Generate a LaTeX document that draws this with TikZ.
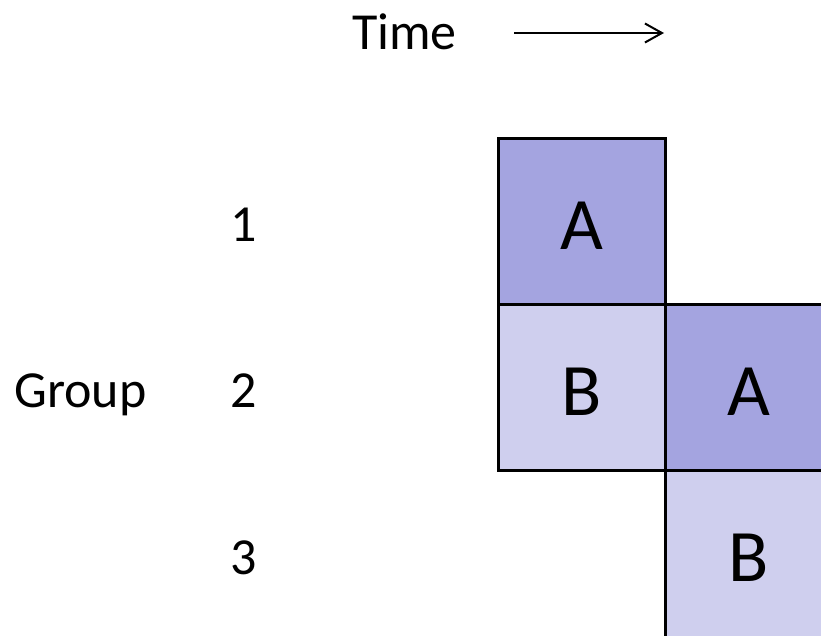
\documentclass[tikz,border=0pt]{standalone}
\usepackage{fontspec}
\setmainfont{Carlito}
\usetikzlibrary{arrows.meta}
\definecolor{darkcell}{RGB}{164,164,224}
\definecolor{lightcell}{RGB}{207,207,238}
\tikzset{
  cell/.style={draw=black, line width=3pt, minimum width=167pt, minimum height=166pt, inner sep=0pt, outer sep=0pt},
  darkbox/.style={cell, fill=darkcell},
  lightbox/.style={cell, fill=lightcell},
  celltext/.style={font=\fontsize{74}{80}\selectfont, anchor=base, inner sep=0pt},
  labeltext/.style={font=\fontsize{52}{60}\selectfont, anchor=base, inner sep=0pt},
}
\begin{document}
\begin{tikzpicture}[x=1pt,y=-1pt]
\useasboundingbox (0,0) rectangle (821,635);
\clip (0,0) rectangle (821,635);
% cells
\node[darkbox]  (a1) at (581.5,221) {};
\node[lightbox] (b1) at (581.5,387) {};
\node[darkbox]  (a2) at (748.5,387) {};
\node[lightbox, minimum height=176pt] (b2) at (748.5,558) {};
\node[celltext] (ta1) at (581.5,249) {A};
\node[celltext] (tb1) at (581.5,415) {B};
\node[celltext] (ta2) at (748.5,415) {A};
\node[celltext] (tb2) at (748.5,581) {B};
% labels
\node[labeltext, anchor=base west] (time) at (352,49) {Time};
\node[labeltext, anchor=base west] (group) at (14,407) {Group};
\node[labeltext] (g1) at (244,241) {1};
\node[labeltext] (g2) at (244,407) {2};
\node[labeltext] (g3) at (244,574) {3};
% arrow
\coordinate (t0) at (514,33);
\coordinate (t1) at (664,33);
\draw[line width=2pt, -{Straight Barb[length=17pt,width=19pt,line width=2pt]}] (t0) -- (t1);
\end{tikzpicture}
\end{document}
